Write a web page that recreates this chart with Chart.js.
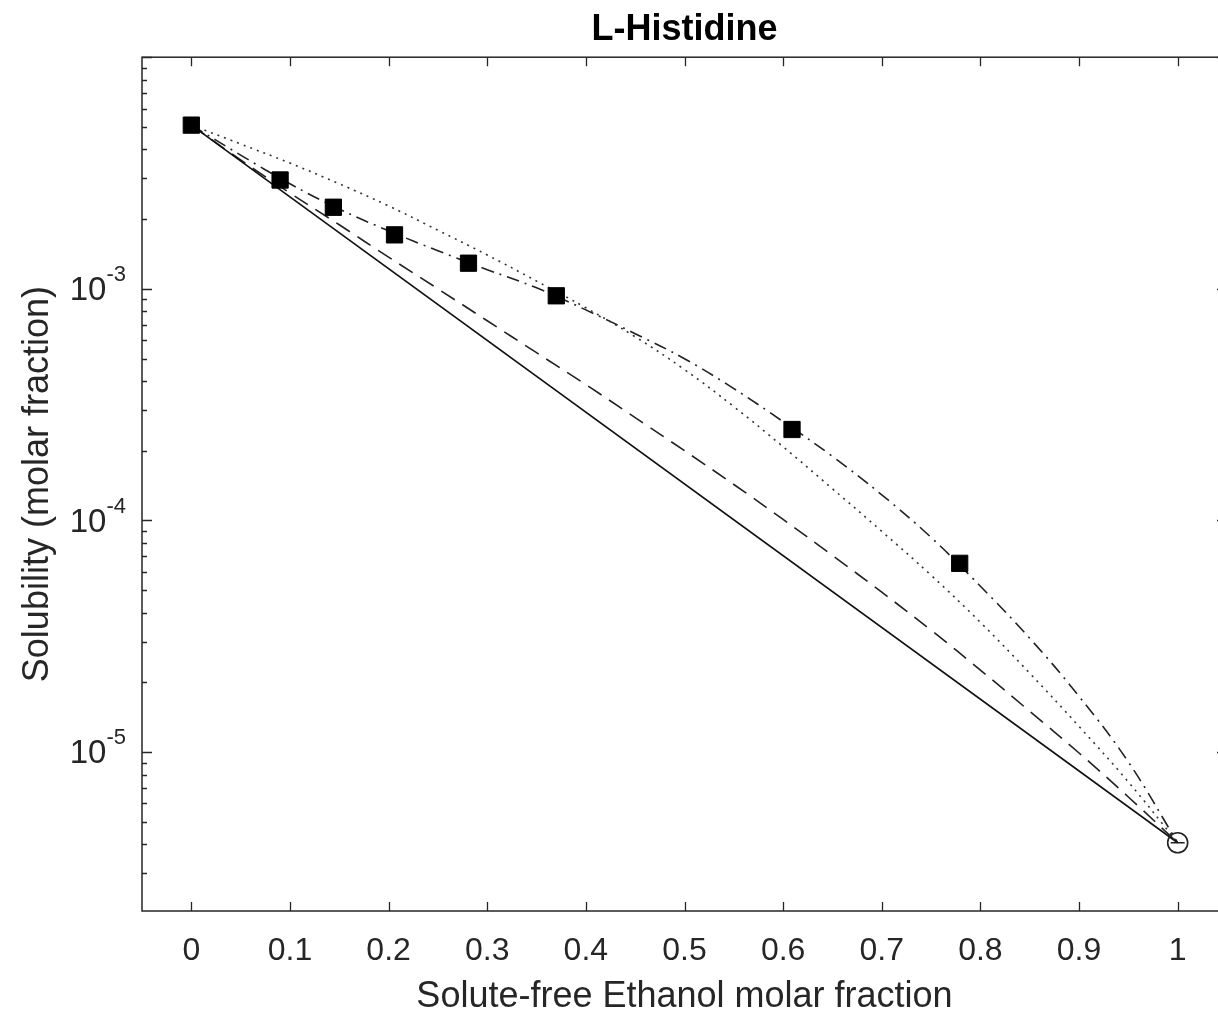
<!DOCTYPE html>
<html>
<head>
<meta charset="utf-8">
<title>L-Histidine</title>
<script src="https://cdn.jsdelivr.net/npm/chart.js@4"></script>
<style>
  html, body { margin: 0; padding: 0; background: #fff; overflow: hidden; }
  #wrap { width: 1240px; height: 1016px; }
</style>
</head>
<body>
<div id="wrap"><canvas id="chart" width="1240" height="1016"></canvas></div>
<script>
// experimental points (filled squares)
const expX = [0, 0.090, 0.144, 0.206, 0.281, 0.370, 0.609, 0.779];
const expY = [5.09e-3, 2.95e-3, 2.25e-3, 1.71e-3, 1.29e-3, 9.33e-4, 2.47e-4, 6.53e-5];
// pure ethanol point (open circle)
const ethX = [1];
const ethY = [4.06e-6];

// model curves
const curveX = [0, 0.05, 0.1, 0.15, 0.2, 0.25, 0.3, 0.35, 0.4, 0.45, 0.5, 0.55, 0.6, 0.65, 0.7, 0.75, 0.8, 0.85, 0.9, 0.95, 1];
const dashedY = [5.09e-3, 3.60e-3, 2.59e-3, 1.89e-3, 1.37e-3, 1.00e-3, 7.28e-4, 5.30e-4, 3.86e-4, 2.78e-4, 2.00e-4, 1.43e-4, 1.01e-4, 7.06e-5, 4.90e-5, 3.36e-5, 2.26e-5, 1.50e-5, 9.91e-6, 6.40e-6, 4.06e-6];
const dottedY = [5.09e-3, 4.22e-3, 3.49e-3, 2.84e-3, 2.28e-3, 1.79e-3, 1.40e-3, 1.08e-3, 8.28e-4, 6.21e-4, 4.48e-4, 3.10e-4, 2.08e-4, 1.37e-4, 8.97e-5, 5.80e-5, 3.63e-5, 2.19e-5, 1.29e-5, 7.43e-6, 4.06e-6];
const dashDotY = [5.09e-3, 3.78e-3, 2.84e-3, 2.21e-3, 1.78e-3, 1.46e-3, 1.21e-3, 1.01e-3, 8.11e-4, 6.40e-4, 4.99e-4, 3.71e-4, 2.67e-4, 1.89e-4, 1.29e-4, 8.45e-5, 5.20e-5, 3.10e-5, 1.74e-5, 9.06e-6, 4.06e-6];
// ideal line (straight on log axis)
const idealX = [0, 1];
const idealY = [5.09e-3, 4.06e-6];

// ticks
const xTicks = [0, 0.1, 0.2, 0.3, 0.4, 0.5, 0.6, 0.7, 0.8, 0.9, 1];
const xTickLabels = ['0', '0.1', '0.2', '0.3', '0.4', '0.5', '0.6', '0.7', '0.8', '0.9', '1'];
const yTicks = [1e-3, 1e-4, 1e-5];
const yTickExp = ['-3', '-4', '-5'];

const FONT = '"Liberation Sans", Arial, Helvetica, sans-serif';
const INK = '#262626';

function pts(xs, ys){ return xs.map((x, i) => ({ x: x, y: ys[i] })); }

// box, inside ticks and y labels with superscripts (MATLAB look)
const matlabAxes = {
  id: 'matlabAxes',
  afterDraw(chart){
    const ctx = chart.ctx, a = chart.chartArea;
    const xs = chart.scales.x, ys = chart.scales.y;
    ctx.save();
    ctx.strokeStyle = INK;
    ctx.lineWidth = 1.5;
    ctx.strokeRect(a.left, a.top, a.right - a.left, a.bottom - a.top);

    ctx.lineWidth = 1.3;
    ctx.beginPath();
    xTicks.forEach(v => {
      const px = Math.round(xs.getPixelForValue(v)) + 0.5;
      ctx.moveTo(px, a.bottom); ctx.lineTo(px, a.bottom - 9);
      ctx.moveTo(px, a.top); ctx.lineTo(px, a.top + 9);
    });
    for (let e = -6; e <= -2; e++) {
      for (let m = 1; m <= 9; m++) {
        const v = m * Math.pow(10, e);
        if (v < ys.min || v > ys.max) continue;
        const py = Math.round(ys.getPixelForValue(v)) + 0.5;
        const len = m === 1 ? 10 : 5;
        ctx.moveTo(a.left, py); ctx.lineTo(a.left + len, py);
        ctx.moveTo(a.right, py); ctx.lineTo(a.right - len, py);
      }
    }
    ctx.stroke();

    ctx.fillStyle = INK;
    ctx.textBaseline = 'middle';
    yTicks.forEach((v, i) => {
      const py = ys.getPixelForValue(v);
      ctx.font = '22px ' + FONT;
      ctx.textAlign = 'right';
      const expW = ctx.measureText(yTickExp[i]).width;
      const right = a.left - 16;
      ctx.fillText(yTickExp[i], right, py - 14);
      ctx.font = '33px ' + FONT;
      ctx.fillText('10', right - expW, py + 2);
    });
    ctx.restore();
  }
};

new Chart(document.getElementById('chart'), {
  type: 'scatter',
  data: {
    datasets: [
      { label: 'ideal', data: pts(idealX, idealY), showLine: true, borderColor: '#111', borderWidth: 1.6, pointRadius: 0, order: 2 },
      { label: 'dashed', data: pts(curveX, dashedY), showLine: true, borderColor: '#222', borderWidth: 1.6, borderDash: [16, 9], pointRadius: 0, tension: 0.4, order: 2 },
      { label: 'dotted', data: pts(curveX, dottedY), showLine: true, borderColor: '#333', borderWidth: 1.6, borderDash: [2, 5], pointRadius: 0, tension: 0.4, order: 2 },
      { label: 'dash-dot', data: pts(curveX, dashDotY), showLine: true, borderColor: '#222', borderWidth: 1.6, borderDash: [13, 6, 2, 6], pointRadius: 0, tension: 0.4, order: 2 },
      { label: 'exp', data: pts(expX, expY), pointStyle: 'rect', pointRadius: 11.5, backgroundColor: '#000', borderColor: '#000', borderWidth: 1, order: 0 },
      { label: 'ethanol', data: pts(ethX, ethY), pointStyle: 'circle', pointRadius: 10, backgroundColor: 'rgba(255,255,255,0)', borderColor: '#222', borderWidth: 1.6, order: 0 },
      { label: 'ethanol-bar', data: pts(ethX, ethY), pointStyle: 'line', pointRadius: 7, borderColor: '#222', borderWidth: 1.6, order: 0 }
    ]
  },
  options: {
    responsive: false,
    animation: false,
    layout: { padding: { left: 0, right: 13, top: 0, bottom: 0 } },
    plugins: {
      legend: { display: false },
      tooltip: { enabled: false },
      title: {
        display: true,
        fullSize: false,
        text: 'L-Histidine',
        color: '#000',
        font: { family: FONT, size: 36, weight: 'bold', lineHeight: 1.2 },
        padding: { top: 8, bottom: 6 }
      }
    },
    scales: {
      x: {
        type: 'linear',
        min: -0.05,
        max: 1.05,
        afterBuildTicks: s => { s.ticks = xTicks.map(v => ({ value: v })); },
        afterFit: s => { s.height = 105; },
        grid: { display: false, drawTicks: false },
        border: { display: false },
        ticks: {
          color: INK,
          font: { family: FONT, size: 32 },
          padding: 21,
          callback: (v, i) => xTickLabels[i]
        },
        title: {
          display: true,
          text: 'Solute-free Ethanol molar fraction',
          color: INK,
          font: { family: FONT, size: 36, lineHeight: 1.0 },
          padding: { top: 0, bottom: 1 }
        }
      },
      y: {
        type: 'logarithmic',
        min: 2.06e-6,
        max: 1e-2,
        afterFit: s => { s.width = 142; },
        grid: { display: false, drawTicks: false },
        border: { display: false },
        ticks: { display: false },
        title: {
          display: true,
          text: 'Solubility (molar fraction)',
          color: INK,
          font: { family: FONT, size: 36, lineHeight: 1.0 },
          padding: { top: 20, bottom: 0 }
        }
      }
    }
  },
  plugins: [matlabAxes]
});
</script>
</body>
</html>
